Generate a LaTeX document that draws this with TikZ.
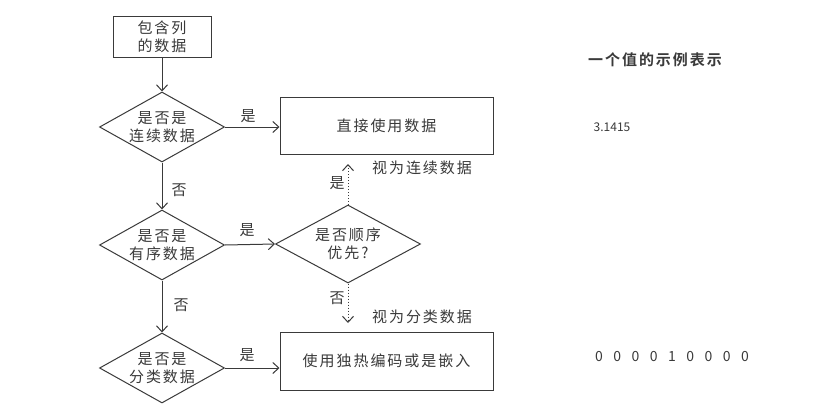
\documentclass[tikz,border=0pt]{standalone}
\usepackage{fontspec}
\setmainfont{Noto Sans CJK SC}[LetterSpace=13]
\newfontfamily\titlefont{Noto Sans CJK SC}[BoldFont=* Bold, LetterSpace=13]
\newfontfamily\numfont{Noto Sans CJK SC}
\usetikzlibrary{shapes.geometric,arrows.meta}
\definecolor{ink}{HTML}{3A3A3A}
\tikzset{
  every node/.style={text=ink, font=\fontsize{15}{18}\selectfont},
  boxnode/.style={draw=ink, line width=1pt, rectangle, inner sep=0pt, align=center},
  dia/.style={draw=ink, line width=1pt, diamond, inner sep=0pt},
  flow/.style={draw=ink, line width=1pt, -{Straight Barb[length=6pt,width=11pt]}},
  dotflow/.style={flow, dotted},
  lbl/.style={inner sep=1pt}
}
\begin{document}
\begin{tikzpicture}[x=1pt,y=-1pt]
\useasboundingbox (0,0) rectangle (819,404);
\fill[white] (0,0) rectangle (819,404);

\node[boxnode, minimum width=98pt, minimum height=41pt] (start) at (162,37) {包含列\\的数据};
\node[dia, minimum width=125pt, minimum height=70pt,
      label={[align=center]center:是否是\\连续数据}] (d1) at (162,127) {};
\node[boxnode, minimum width=213pt, minimum height=57pt] (direct) at (386.5,125.5) {直接使用数据};
\node[dia, minimum width=125pt, minimum height=70pt,
      label={[align=center]center:是否是\\有序数据}] (d2) at (162,245) {};
\node[dia, minimum width=145pt, minimum height=78pt,
      label={[align=center]center:是否顺序\\优先?}] (d3) at (348,244) {};
\node[dia, minimum width=125pt, minimum height=70pt,
      label={[align=center]center:是否是\\分类数据}] (d4) at (162,368) {};
\node[boxnode, minimum width=213pt, minimum height=58pt] (onehot) at (386.5,361) {使用独热编码或是嵌入};

\coordinate (upend) at (348,164);
\coordinate (downend) at (348,323);

\draw[flow] (start.south) -- (d1.north);
\draw[flow] (d1.east) -- (d1.east -| direct.west);
\draw[flow] (d1.south) -- (d2.north);
\draw[flow] (d2.east) -- (d3.west);
\draw[flow] (d2.south) -- (d4.north);
\draw[flow] (d4.east) -- (d4.east -| onehot.west);
\draw[dotflow] (d3.north) -- (upend);
\draw[dotflow] (d3.south) -- (downend);

\node[lbl] (y1) at (248,116) {是};
\node[lbl] (y2) at (247,230) {是};
\node[lbl] (y3) at (247,355) {是};
\node[lbl] (n1) at (179,190) {否};
\node[lbl] (n2) at (181,305) {否};
\node[lbl] (y4) at (337,183) {是};
\node[lbl] (n3) at (337,298) {否};
\node[lbl] (cont) at (422,168) {视为连续数据};
\node[lbl] (cat) at (422,317) {视为分类数据};

\node[lbl, font=\titlefont\bfseries\fontsize{15}{18}\selectfont] (title) at (655,60) {一个值的示例表示};
\node[lbl, font=\numfont\fontsize{12}{14}\selectfont] (pi) at (612,127) {3.1415};
\node[lbl, font=\numfont\fontsize{14}{15}\selectfont] (vec) at (672,357) {0\hspace{10.5pt}0\hspace{10.5pt}0\hspace{10.5pt}0\hspace{10.5pt}1\hspace{10.5pt}0\hspace{10.5pt}0\hspace{10.5pt}0\hspace{10.5pt}0};
\end{tikzpicture}
\end{document}
